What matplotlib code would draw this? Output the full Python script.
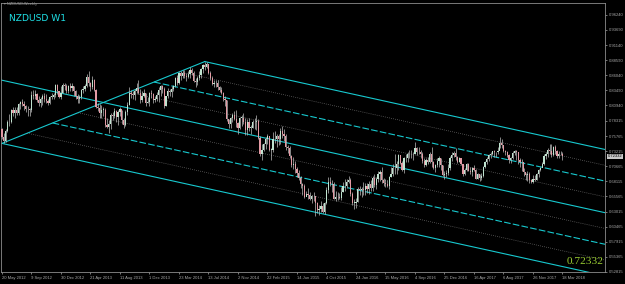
import matplotlib
matplotlib.use('Agg')
import matplotlib.pyplot as plt
import numpy as np

# weekly NZDUSD candles, first week = 20 May 2012 (prices in 1e-4 units)
first_open = 7690
closes = [
    7560, 7490, 7660, 7810, 7810, 8020, 7960, 8010, 7960, 8120, 8150, 8120, 8090, 8030, 8030, 8020,
    8270, 8260, 8290, 8190, 8130, 8210, 8260, 8210, 8170, 8140, 8240, 8240, 8270, 8440, 8330, 8230,
    8310, 8440, 8420, 8330, 8420, 8390, 8430, 8330, 8260, 8210, 8240, 8350, 8370, 8430, 8580, 8470,
    8400, 8520, 8360, 8070, 8050, 7970, 8020, 8020, 7770, 7730, 7780, 7930, 7920, 8000, 7900, 7980,
    8030, 7840, 7760, 7990, 8110, 8310, 8290, 8270, 8330, 8390, 8300, 8180, 8260, 8300, 8140, 8150,
    8300, 8280, 8180, 8200, 8270, 8350, 8430, 8370, 8090, 8250, 8340, 8320, 8380, 8420, 8550, 8480,
    8640, 8590, 8640, 8590, 8580, 8620, 8700, 8640, 8510, 8490, 8560, 8600, 8710, 8770, 8750, 8790,
    8650, 8560, 8460, 8470, 8480, 8400, 8360, 8300, 8210, 8180, 7870, 7780, 7880, 7940, 7860, 7800,
    7710, 7890, 7890, 7820, 7680, 7820, 7720, 7720, 7810, 7820, 7830, 7550, 7270, 7340, 7440, 7520,
    7570, 7350, 7350, 7530, 7520, 7570, 7520, 7670, 7620, 7570, 7390, 7380, 7240, 7080, 7110, 7020,
    6950, 6870, 6760, 6740, 6550, 6600, 6580, 6510, 6560, 6560, 6440, 6330, 6350, 6400, 6300, 6440,
    6670, 6800, 6760, 6770, 6520, 6540, 6550, 6530, 6640, 6730, 6740, 6800, 6840, 6600, 6450, 6450,
    6470, 6690, 6660, 6680, 6660, 6730, 6690, 6760, 6700, 6870, 6750, 6850, 6930, 6970, 6840, 6780,
    6770, 6740, 6890, 6940, 7040, 7040, 7100, 7250, 7130, 7000, 7210, 7200, 7280, 7270, 7280, 7270,
    7380, 7300, 7300, 7270, 7150, 7090, 7180, 7140, 7280, 7140, 7040, 7080, 7150, 7200, 7080, 6920,
    6930, 6950, 7040, 7200, 7260, 7290, 7220, 7140, 7210, 7100, 6940, 7000, 7100, 6990, 6970, 7040,
    7000, 6860, 6930, 6870, 6900, 7060, 7140, 7190, 7250, 7270, 7320, 7300, 7300, 7330, 7460, 7430,
    7330, 7300, 7260, 7170, 7210, 7290, 7330, 7310, 7180, 7140, 7140, 6970, 6920, 6930, 6840, 6800,
    6860, 6840, 6930, 7000, 7030, 7110, 7240, 7280, 7350, 7330, 7250, 7390, 7320, 7240, 7270, 7280,
    7233,
]
highs = [
    7720, 7625, 7700, 7850, 7950, 8040, 8070, 8060, 8070, 8140, 8170, 8210, 8170, 8110, 8090, 8050,
    8330, 8350, 8350, 8300, 8250, 8240, 8280, 8300, 8290, 8200, 8250, 8300, 8310, 8450, 8460, 8330,
    8430, 8470, 8480, 8460, 8440, 8480, 8470, 8430, 8360, 8290, 8270, 8380, 8420, 8450, 8620, 8676,
    8490, 8590, 8540, 8380, 8130, 8120, 8100, 8070, 8050, 7880, 7840, 7960, 7990, 8050, 8020, 8010,
    8060, 8020, 7880, 8020, 8160, 8400, 8360, 8340, 8380, 8470, 8530, 8380, 8330, 8370, 8310, 8240,
    8320, 8360, 8310, 8260, 8320, 8400, 8440, 8440, 8410, 8260, 8390, 8380, 8420, 8440, 8580, 8610,
    8660, 8670, 8700, 8700, 8640, 8680, 8750, 8720, 8680, 8560, 8590, 8680, 8730, 8790, 8835, 8820,
    8790, 8670, 8590, 8530, 8520, 8520, 8420, 8410, 8320, 8260, 8190, 7870, 7900, 7960, 8000, 8020,
    7820, 7900, 7930, 7970, 7880, 7870, 7880, 7770, 7850, 7880, 7940, 7870, 7580, 7440, 7460, 7560,
    7610, 7580, 7380, 7640, 7660, 7620, 7610, 7720, 7740, 7700, 7610, 7420, 7410, 7260, 7220, 7160,
    7050, 7000, 6900, 6790, 6760, 6650, 6700, 6630, 6590, 6640, 6550, 6460, 6420, 6480, 6450, 6460,
    6710, 6880, 6890, 6830, 6800, 6650, 6630, 6620, 6720, 6800, 6860, 6850, 6900, 6870, 6630, 6510,
    6530, 6720, 6740, 6720, 6800, 6790, 6780, 6820, 6840, 6910, 6930, 6890, 6990, 7000, 7050, 6870,
    6850, 6830, 6910, 7050, 7100, 7270, 7150, 7270, 7250, 7150, 7230, 7270, 7310, 7340, 7350, 7300,
    7480, 7400, 7400, 7340, 7300, 7200, 7210, 7220, 7300, 7400, 7150, 7110, 7200, 7240, 7210, 7090,
    6980, 7000, 7110, 7240, 7300, 7320, 7370, 7240, 7230, 7210, 7080, 7030, 7130, 7130, 7050, 7060,
    7080, 7020, 6960, 6940, 6950, 7070, 7160, 7230, 7270, 7300, 7330, 7340, 7310, 7400, 7560, 7520,
    7420, 7340, 7330, 7280, 7230, 7330, 7350, 7340, 7230, 7210, 7190, 7030, 6950, 6990, 6970, 6850,
    6920, 6920, 6960, 7020, 7060, 7140, 7280, 7310, 7370, 7440, 7440, 7410, 7430, 7340, 7320, 7330,
    7300,
]
lows = [
    7530, 7453, 7470, 7640, 7750, 7790, 7920, 7880, 7940, 7930, 8030, 8080, 8010, 7990, 7910, 7910,
    7990, 8210, 8210, 8150, 8090, 8060, 8100, 8150, 8140, 8110, 8120, 8200, 8200, 8240, 8290, 8220,
    8200, 8300, 8350, 8300, 8300, 8330, 8340, 8260, 8200, 8140, 8130, 8200, 8300, 8330, 8400, 8420,
    8340, 8380, 8330, 8050, 8000, 7880, 7880, 7920, 7730, 7710, 7630, 7690, 7840, 7880, 7810, 7760,
    7910, 7780, 7720, 7740, 7940, 8100, 8220, 8200, 8180, 8310, 8280, 8140, 8160, 8230, 8080, 8130,
    8090, 8220, 8130, 8160, 8170, 8150, 8260, 8300, 8050, 8080, 8220, 8250, 8240, 8330, 8400, 8440,
    8460, 8530, 8560, 8560, 8510, 8560, 8560, 8600, 8490, 8400, 8440, 8520, 8560, 8650, 8700, 8720,
    8620, 8530, 8440, 8410, 8400, 8360, 8320, 8280, 8170, 8080, 7830, 7710, 7720, 7820, 7840, 7730,
    7610, 7700, 7750, 7780, 7590, 7600, 7670, 7620, 7720, 7700, 7680, 7520, 7240, 7180, 7330, 7360,
    7450, 7330, 7180, 7310, 7460, 7400, 7420, 7450, 7550, 7500, 7350, 7290, 7200, 7050, 7020, 6950,
    6880, 6840, 6700, 6580, 6530, 6560, 6520, 6490, 6440, 6480, 6235, 6280, 6240, 6290, 6270, 6260,
    6430, 6620, 6730, 6640, 6520, 6480, 6500, 6510, 6500, 6640, 6650, 6700, 6790, 6560, 6420, 6350,
    6370, 6460, 6580, 6550, 6590, 6580, 6610, 6600, 6650, 6650, 6720, 6680, 6800, 6820, 6790, 6730,
    6710, 6710, 6680, 6880, 6910, 6940, 6930, 7000, 7100, 6980, 6960, 7140, 7140, 7200, 7210, 7170,
    7270, 7250, 7280, 7200, 7130, 7050, 7070, 7110, 7120, 7060, 7020, 6970, 7050, 7050, 7010, 6900,
    6860, 6890, 6920, 7010, 7160, 7230, 7180, 7130, 7140, 7080, 6910, 6920, 6980, 6980, 6930, 6900,
    6980, 6850, 6860, 6820, 6840, 6880, 7040, 7110, 7160, 7210, 7250, 7220, 7220, 7270, 7370, 7380,
    7310, 7250, 7220, 7130, 7130, 7190, 7260, 7170, 7100, 7050, 6980, 6910, 6840, 6820, 6780, 6780,
    6780, 6820, 6830, 6880, 6990, 7050, 7080, 7190, 7230, 7280, 7220, 7240, 7270, 7210, 7200, 7250,
    7180,
]

# equidistant channel anchors (week index, price)
p1 = (0, 0.7453)      # May 2012 low
p2 = (110, 0.8835)    # Jul 2014 high
slope = -0.000684     # price per week
levels = [0, 1, 2, 3, 4, 5, 6, 7, 8]   # eighths of the channel width

price_ticks = [0.96240, 0.93690, 0.91140, 0.88590, 0.86040, 0.83490, 0.80940, 0.78315, 0.75765,
               0.73215, 0.70665, 0.68115, 0.65565, 0.63015, 0.60465, 0.57915, 0.55365, 0.52815]
date_labels = ['20 May 2012', '9 Sep 2012', '30 Dec 2012', '21 Apr 2013', '11 Aug 2013', '1 Dec 2013',
               '23 Mar 2014', '13 Jul 2014', '2 Nov 2014', '22 Feb 2015', '14 Jun 2015', '4 Oct 2015',
               '24 Jan 2016', '15 May 2016', '4 Sep 2016', '25 Dec 2016', '16 Apr 2017', '6 Aug 2017',
               '26 Nov 2017', '18 Mar 2018']
last_price = 0.72332

c = np.array(closes) / 10000
h = np.array(highs) / 10000
l = np.array(lows) / 10000
o = np.concatenate([[first_open / 10000], c[:-1]])
x = np.arange(len(c))

fig = plt.figure(figsize=(6.25, 2.84), dpi=100, facecolor='#000000')
ax = fig.add_axes([1 / 625, 1 - 272 / 284, 604 / 625, 269 / 284])
ax.set_facecolor('#000000')
ax.set_xlim(-0.5, -0.5 + 604 / 1.844)
ax.set_ylim(0.5331, 0.9824)

# channel
cyan = '#17c9cf'
xr = ax.get_xlim()[1]
top0 = p2[1] - slope * p2[0]
width = top0 - p1[1]
hs = (p2[1] - p1[1]) / (p2[0] - p1[0])
ax.plot([p1[0], p2[0]], [p1[1], p2[1]], color=cyan, lw=0.8, zorder=1)
for k in levels:
    base = top0 - width * k / 8
    if k == 4:
        xs = ax.get_xlim()[0]
    else:
        xs = (base - p1[1]) / (hs - slope)
    ys = [base + slope * xs, base + slope * xr]
    if k % 4 == 0:
        ax.plot([xs, xr], ys, color=cyan, lw=0.8, zorder=1)
    elif k % 2 == 0:
        ax.plot([xs, xr], ys, color=cyan, lw=0.8, ls=(0, (6, 2)), zorder=1)
    else:
        ax.plot([xs, xr], ys, color='#8a8a8a', lw=0.5, ls=(0, (1, 2)), zorder=1)

# candles
up = c >= o
ax.vlines(x, l, h, color='#bdbdbd', lw=0.5, zorder=2)
ax.bar(x[up], np.maximum(c - o, 0.0006)[up], bottom=o[up], width=0.65,
       color='#bfe3cf', edgecolor='none', zorder=3)
ax.bar(x[~up], np.maximum(o - c, 0.0006)[~up], bottom=c[~up], width=0.65,
       color='#e49aa4', edgecolor='none', zorder=3)

for s in ax.spines.values():
    s.set_color('#8c8c8c')
    s.set_linewidth(0.6)
ax.yaxis.tick_right()
ax.set_yticks(price_ticks)
ax.set_yticklabels(['%.5f' % v for v in price_ticks], family='Liberation Sans')
ax.set_xticks(np.arange(len(date_labels)) * 16)
ax.set_xticklabels(date_labels, ha='left', family='Liberation Sans')
ax.tick_params(colors='#a8a8a8', labelsize=3.0, length=1.5, width=0.5, pad=1.2)

# current price tag on the axis
ax.text(1.004, last_price, '%.5f' % last_price, transform=ax.get_yaxis_transform(),
        fontsize=3.0, family='Liberation Sans', color='#000000', va='center', ha='left',
        bbox=dict(boxstyle='square,pad=0.2', fc='#c8c8c8', ec='none'))

fig.text(0.006, 0.992, '\u25be NZDUSD,Weekly', color='#9a9a9a', fontsize=2.6, va='top', ha='left')
fig.text(0.015, 0.952, 'NZDUSD W1', color='#1fe0e6', fontsize=6.6, va='top', ha='left')
fig.text(0.966, 0.065, '0.72332', color='#9acd32', fontsize=8.2, family='Liberation Serif',
         va='bottom', ha='right')

fig.savefig('out.png', dpi=100, facecolor=fig.get_facecolor())
